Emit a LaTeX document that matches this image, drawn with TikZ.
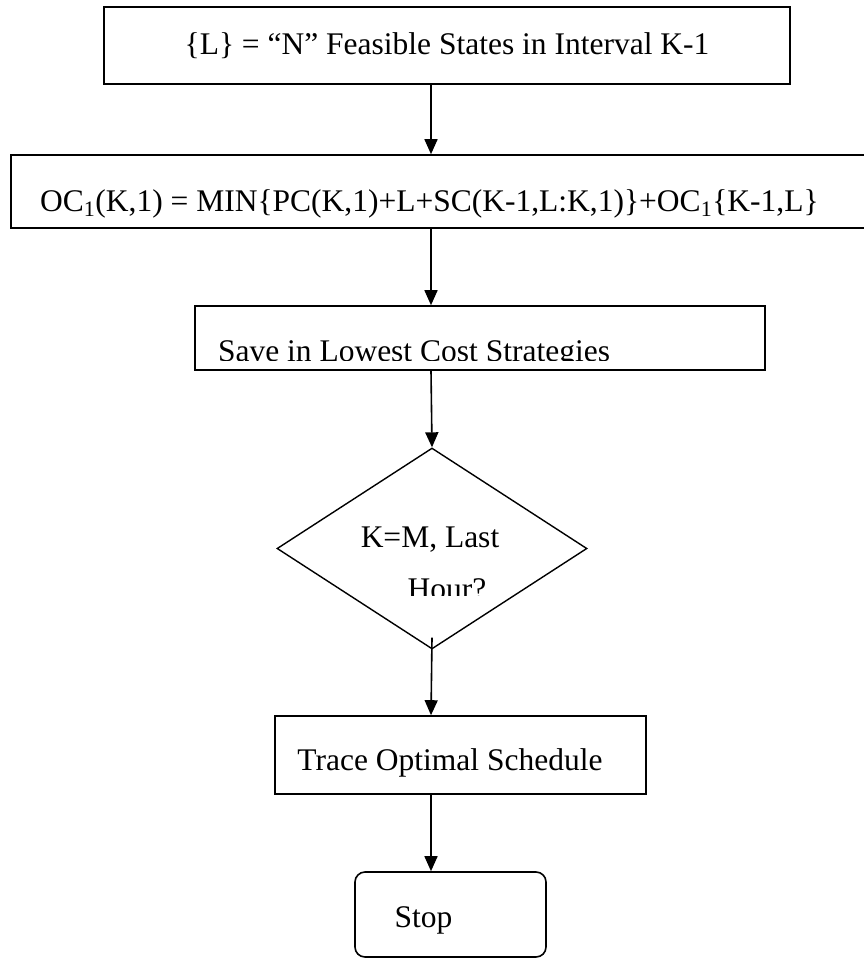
\documentclass[tikz,border=0pt]{standalone}
\usepackage{fontspec}
\setmainfont{Liberation Serif}
\usetikzlibrary{positioning,arrows.meta,shapes.geometric,calc}
\tikzset{
  box/.style={rectangle, draw=black!100, line width=1.6pt, inner sep=0pt},
  decision/.style={diamond, draw=black!100, line width=1.4pt, inner sep=0pt},
  term/.style={box, rounded corners=10pt},
  connect/.style={-{Triangle[length=15pt,width=13pt]}, line width=1.6pt},
  txt/.style={inner sep=0pt, anchor=base}
}

\begin{document}
\begin{tikzpicture}[x=1pt, y=-1pt, font=\fontsize{31.5}{37}\selectfont]
  \useasboundingbox (0,0) rectangle (864,958);

  % boxes of the chart, top to bottom
  \node[box, minimum width=686pt, minimum height=77pt] (feas) at (447,45.5)
    {\{L\} = “N” Feasible States in Interval K-1};
  \node[box, minimum width=859pt, minimum height=73pt] (oc) at (440.5,191.5) {};
  \node[box, minimum width=570pt, minimum height=64pt] (save) at (480,338) {};
  \node[decision, minimum width=310pt, minimum height=201pt] (dia) at (432,548.5) {};
  \node[box, minimum width=371pt, minimum height=78pt] (trace) at (460.5,755) {};
  \node[term, minimum width=191pt, minimum height=85pt] (stop) at (450.5,914.5) {};

  % texts of the boxes
  \node[txt, anchor=base west] (octext) at (40,211)
    {OC\textsubscript{1}(K,1) = MIN\{PC(K,1)+L+SC(K-1,L:K,1)\}+OC\textsubscript{1}\{K-1,L\}};
  \node[txt] (tracetext) at (450,770) {Trace Optimal Schedule};
  \node[txt] (stoptext) at (423.5,927) {Stop};

  % texts that are cut off at the bottom
  \begin{scope}
    \clip (save.north west) rectangle ([yshift=10pt]save.south east);
    \node[txt] (savetext) at (414,361.5) {Save in Lowest Cost Strategies};
  \end{scope}
  \begin{scope}
    \clip (dia.north -| dia.west) rectangle ($(dia.east)+(0,46.5)$);
    \node[txt] (diatext) at (430,547) {K=M, Last};
    \node[txt] (hourtext) at (447,599) {Hour?};
  \end{scope}

  % connectors
  \coordinate (c) at (431,0);
  \draw[connect] (feas.south -| c) -- (oc.north -| c);
  \draw[connect] (oc.south -| c) -- (save.north -| c);
  \draw[connect] (save.south -| c) -- (dia.north);
  \draw[connect] ([yshift=12pt]dia.south) -- (trace.north -| c);
  \draw[connect] (trace.south -| c) -- (stop.north -| c);
\end{tikzpicture}
\end{document}
